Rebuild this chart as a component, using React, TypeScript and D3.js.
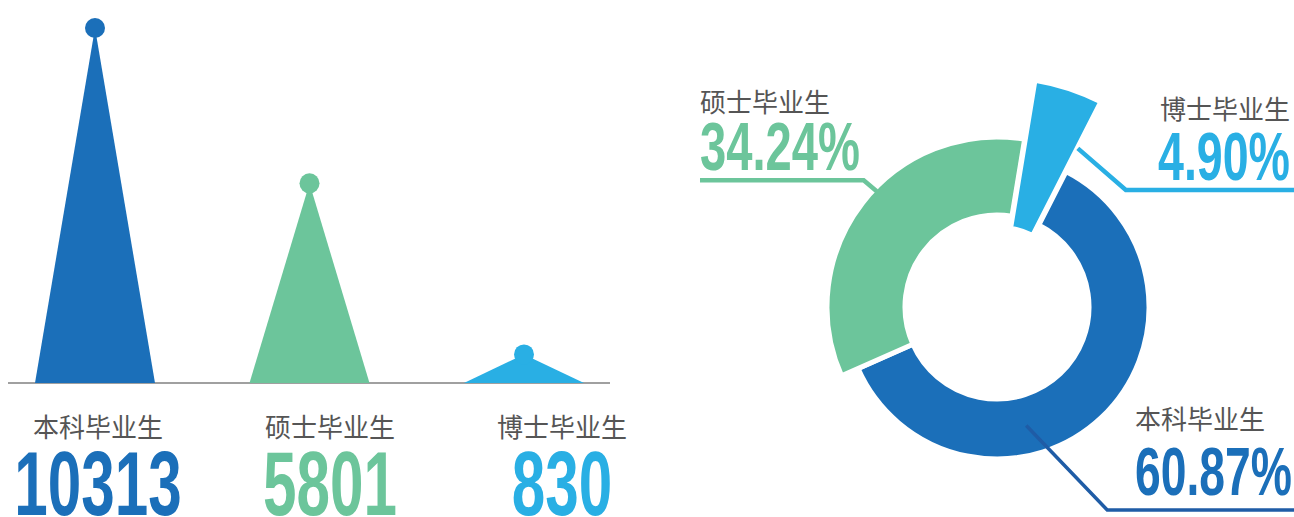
import { useRef, useEffect } from "react";
import * as d3 from "d3";

const categories = ["本科毕业生", "硕士毕业生", "博士毕业生"];
const counts = [10313, 5801, 830];
const shares = [60.87, 34.24, 4.9];
const shareLabels = ["60.87%", "34.24%", "4.90%"];

const colors = ["#1b6fb9", "#6cc59b", "#29afe4"];
const WIDTH = 1294;
const HEIGHT = 517;

function App() {
  const svgRef = useRef(null);

  useEffect(() => {
    const svg = d3.select(svgRef.current);
    svg.selectAll("*").remove();

    // ---- left: triangle "bars" ----
    const base = 383;
    const x = d3.scalePoint().domain(categories).range([95, 524]);
    const xText = d3.scalePoint().domain(categories).range([98, 562]);
    const y = d3.scaleLinear().domain([0, d3.max(counts)]).range([base, 28]);
    const half = 60;

    const left = svg.append("g");
    left.append("line")
      .attr("x1", 8).attr("x2", 610)
      .attr("y1", base).attr("y2", base)
      .attr("stroke", "#a0a0a0").attr("stroke-width", 2);

    categories.forEach((c, i) => {
      const cx = x(c);
      const top = y(counts[i]);
      left.append("path")
        .attr("d", `M${cx - half},${base}L${cx},${top}L${cx + half},${base}Z`)
        .attr("fill", colors[i]);
      left.append("circle")
        .attr("cx", cx).attr("cy", top)
        .attr("r", 10)
        .attr("fill", colors[i]);

      left.append("text")
        .attr("x", xText(c)).attr("y", 437)
        .attr("text-anchor", "middle")
        .attr("font-family", "'Noto Sans CJK SC', sans-serif")
        .attr("font-size", 26)
        .attr("fill", "#555")
        .text(c);

      const num = String(counts[i]);
      left.append("text")
        .attr("x", xText(c)).attr("y", 515)
        .attr("text-anchor", "middle")
        .attr("font-family", "'Liberation Sans Narrow', 'Liberation Sans', sans-serif")
        .attr("font-weight", "bold")
        .attr("font-size", 90)
        .attr("textLength", num.length * 33.5)
        .attr("lengthAdjust", "spacingAndGlyphs")
        .attr("fill", colors[i])
        .text(num);
    });

    // ---- right: donut ----
    const cx = 997;
    const cy = 307;
    const innerR = [92, 92, 76];
    const outerR = [152, 170, 226];
    const explode = [0, 0, 4];

    const start = (27 / 180) * Math.PI;
    const pie = d3.pie().sort(null).value((d) => d)
      .startAngle(start).endAngle(start + 2 * Math.PI);
    const arcs = pie(shares);

    const donut = svg.append("g").attr("transform", `translate(${cx},${cy})`);
    arcs.forEach((a, i) => {
      const arc = d3.arc().innerRadius(innerR[i]).outerRadius(outerR[i]);
      const mid = (a.startAngle + a.endAngle) / 2;
      const dx = Math.sin(mid) * explode[i];
      const dy = -Math.cos(mid) * explode[i];
      donut.append("path")
        .attr("d", arc(a))
        .attr("transform", `translate(${dx},${dy})`)
        .attr("fill", colors[i])
        .attr("stroke", "#fff")
        .attr("stroke-width", 5)
        .attr("stroke-linejoin", "miter");
    });

    // leader lines + labels
    const pt = (i, r, frac) => {
      const a = arcs[i];
      const ang = a.startAngle + (a.endAngle - a.startAngle) * frac;
      return [cx + Math.sin(ang) * r, cy - Math.cos(ang) * r];
    };

    const line = d3.line();
    const g = svg.append("g").attr("fill", "none");

    // 硕士
    const p1 = pt(1, outerR[1] - 3, 0.55);
    g.append("path")
      .attr("d", line([p1, [p1[0] - 13, p1[1] - 11], [700, p1[1] - 11]]))
      .attr("stroke", colors[1]).attr("stroke-width", 4.5);
    // 博士
    const p2 = pt(2, 178, 1);
    g.append("path")
      .attr("d", line([p2, [p2[0] + 48, 190], [WIDTH, 190]]))
      .attr("stroke", colors[2]).attr("stroke-width", 4.5);
    // 本科
    const p0 = pt(0, 122, 0.635);
    g.append("path")
      .attr("d", line([p0, [p0[0] + 81, 510], [WIDTH, 510]]))
      .attr("stroke", "#1f5ca6").attr("stroke-width", 3.5);

    const labelPos = [
      { x: 1135, ly: 429, vy: 495, anchor: "start" },
      { x: 700, ly: 112, vy: 170, anchor: "start" },
      { x: 1290, ly: 119, vy: 180, anchor: "end" },
    ];
    const valueWidth = [157, 160, 132];

    labelPos.forEach((p, i) => {
      svg.append("text")
        .attr("x", p.x).attr("y", p.ly)
        .attr("text-anchor", p.anchor)
        .attr("font-family", "'Noto Sans CJK SC', sans-serif")
        .attr("font-size", 26)
        .attr("fill", "#555")
        .text(categories[i]);
      svg.append("text")
        .attr("x", p.x).attr("y", p.vy)
        .attr("text-anchor", p.anchor)
        .attr("font-family", "'Liberation Sans Narrow', 'Liberation Sans', sans-serif")
        .attr("font-weight", "bold")
        .attr("font-size", 68)
        .attr("textLength", valueWidth[i])
        .attr("lengthAdjust", "spacingAndGlyphs")
        .attr("fill", colors[i])
        .text(shareLabels[i]);
    });
  }, []);

  return (
    <div style={{ position: "absolute", left: 0, top: 0, background: "#fff" }}>
      <svg ref={svgRef} width={WIDTH} height={HEIGHT} style={{ display: "block" }} />
    </div>
  );
}

export default App;
